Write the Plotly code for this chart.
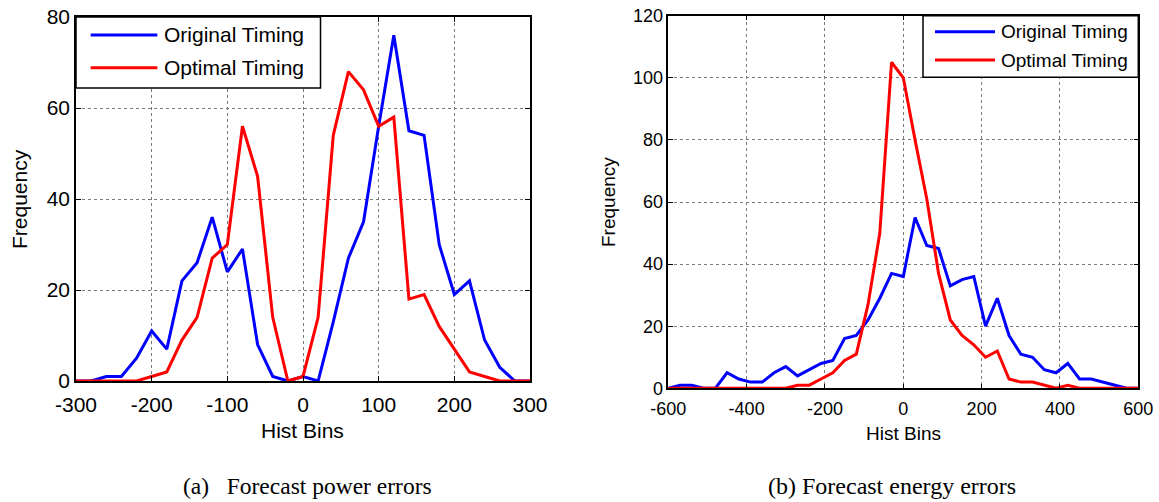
import plotly.graph_objects as go

W, H = 1159, 502

# ---------------- data ----------------
power_bins = [-300, -280, -260, -240, -220, -200, -180, -160, -140, -120, -100, -80, -60, -40, -20,
              0, 20, 40, 60, 80, 100, 120, 140, 160, 180, 200, 220, 240, 260, 280, 300]
power_original = [0, 0, 1, 1, 5, 11, 7, 22, 26, 36, 24, 29, 8, 1, 0,
                  1, 0, 13, 27, 35, 56, 76, 55, 54, 30, 19, 22, 9, 3, 0, 0]
power_optimal = [0, 0, 0, 0, 0, 1, 2, 9, 14, 27, 30, 56, 45, 14, 0,
                 1, 14, 54, 68, 64, 56, 58, 18, 19, 12, 7, 2, 1, 0, 0, 0]

energy_bins = [-600, -570, -540, -510, -480, -450, -420, -390, -360, -330, -300, -270, -240, -210,
               -180, -150, -120, -90, -60, -30, 0, 30, 60, 90, 120, 150, 180, 210, 240, 270,
               300, 330, 360, 390, 420, 450, 480, 510, 540, 570, 600]
energy_original = [0, 1, 1, 0, 0, 5, 3, 2, 2, 5, 7, 4, 6, 8,
                   9, 16, 17, 22, 29, 37, 36, 55, 46, 45, 33, 35, 36, 20, 29, 17,
                   11, 10, 6, 5, 8, 3, 3, 2, 1, 0, 0]
energy_optimal = [0, 0, 0, 0, 0, 0, 0, 0, 0, 0, 0, 1, 1, 3,
                  5, 9, 11, 27, 50, 105, 100, 80, 61, 37, 22, 17, 14, 10, 12, 3,
                  2, 2, 1, 0, 1, 0, 0, 0, 0, 0, 0]

series_names = ["Original Timing", "Optimal Timing"]
captions = ["(a)   Forecast power errors", "(b) Forecast energy errors"]
x_title = "Hist Bins"
y_title = "Frequency"

power_xticks = [-300, -200, -100, 0, 100, 200, 300]
power_yticks = [0, 20, 40, 60, 80]
energy_xticks = [-600, -400, -200, 0, 200, 400, 600]
energy_yticks = [0, 20, 40, 60, 80, 100, 120]

BLUE = "#0000FF"
RED = "#FF0000"
SANS = "Liberation Sans, Arial"
SERIF = "Liberation Serif, Times New Roman"

def px(x):
    return x / W

def py(y):
    return 1 - y / H

def labels(vals):
    return [str(v) for v in vals]  # ASCII hyphen-minus like the reference

# plot areas in pixels
L = dict(x0=76, x1=530, y0=17, y1=381)
R = dict(x0=668.3, x1=1138.3, y0=15.7, y1=388.3)

fig = go.Figure()

fig.add_trace(go.Scatter(x=power_bins, y=power_original, mode="lines",
                         line=dict(color=BLUE, width=3), xaxis="x", yaxis="y", showlegend=False))
fig.add_trace(go.Scatter(x=power_bins, y=power_optimal, mode="lines",
                         line=dict(color=RED, width=3), xaxis="x", yaxis="y", showlegend=False))
fig.add_trace(go.Scatter(x=energy_bins, y=energy_original, mode="lines",
                         line=dict(color=BLUE, width=3), xaxis="x2", yaxis="y2", showlegend=False))
fig.add_trace(go.Scatter(x=energy_bins, y=energy_optimal, mode="lines",
                         line=dict(color=RED, width=3), xaxis="x2", yaxis="y2", showlegend=False))

axis_common = dict(showline=True, linecolor="black", linewidth=1.5, mirror="ticks",
                   ticks="inside", ticklen=5, tickcolor="black", automargin=False,
                   showgrid=True, gridcolor="#7a7a7a", griddash="dot", gridwidth=1,
                   zeroline=False, fixedrange=True)

fig.update_layout(
    width=W, height=H,
    margin=dict(l=0, r=0, t=0, b=0),
    paper_bgcolor="white", plot_bgcolor="white",
    font=dict(family=SANS, color="black"),
    xaxis=dict(domain=[px(L["x0"]), px(L["x1"])], range=[-300, 300],
               tickvals=power_xticks, ticktext=labels(power_xticks), ticklabelstandoff=4,
               anchor="y", tickfont=dict(size=21), **axis_common),
    yaxis=dict(domain=[py(L["y1"]), py(L["y0"])], range=[0, 80],
               tickvals=power_yticks, ticktext=labels(power_yticks),
               anchor="x", tickfont=dict(size=21), **axis_common),
    xaxis2=dict(domain=[px(R["x0"]), px(R["x1"])], range=[-600, 600],
                tickvals=energy_xticks, ticktext=labels(energy_xticks), ticklabelstandoff=3,
                anchor="y2", tickfont=dict(size=18), **axis_common),
    yaxis2=dict(domain=[py(R["y1"]), py(R["y0"])], range=[0, 120],
                tickvals=energy_yticks, ticktext=labels(energy_yticks),
                anchor="x2", tickfont=dict(size=18), **axis_common),
)

shapes = []
annotations = []

# legends (drawn manually to match sample line length)
def add_legend(bx0, bx1, by0, by1, lx0, lx1, ly, tx, fsize):
    shapes.append(dict(type="rect", xref="paper", yref="paper",
                       x0=px(bx0), x1=px(bx1), y0=py(by1), y1=py(by0),
                       line=dict(color="black", width=1.5), fillcolor="white", layer="above"))
    for name, col, yy in zip(series_names, [BLUE, RED], ly):
        shapes.append(dict(type="line", xref="paper", yref="paper",
                           x0=px(lx0), x1=px(lx1), y0=py(yy), y1=py(yy),
                           line=dict(color=col, width=3), layer="above"))
        annotations.append(dict(text=name, xref="paper", yref="paper", x=px(tx), y=py(yy),
                                xanchor="left", yanchor="middle", showarrow=False,
                                font=dict(size=fsize, family=SANS, color="black")))

add_legend(76, 320.5, 17, 88, 90.7, 157.3, [35, 67.7], 162.5, 21)
add_legend(923, 1138.3, 15.7, 77.3, 935, 995, [31.7, 60], 999, 19)

# axis titles
annotations.append(dict(text=x_title, xref="paper", yref="paper", x=px(302), y=py(430),
                        xanchor="center", yanchor="middle", showarrow=False, font=dict(size=21)))
annotations.append(dict(text=y_title, xref="paper", yref="paper", x=px(19), y=py(199),
                        xanchor="center", yanchor="middle", showarrow=False, textangle=-90,
                        font=dict(size=21)))
annotations.append(dict(text=x_title, xref="paper", yref="paper", x=px(903), y=py(433),
                        xanchor="center", yanchor="middle", showarrow=False, font=dict(size=19)))
annotations.append(dict(text=y_title, xref="paper", yref="paper", x=px(608), y=py(202),
                        xanchor="center", yanchor="middle", showarrow=False, textangle=-90,
                        font=dict(size=19)))

# captions
annotations.append(dict(text=captions[0], xref="paper", yref="paper", x=px(307), y=py(486),
                        xanchor="center", yanchor="middle", showarrow=False,
                        font=dict(size=23.5, family=SERIF)))
annotations.append(dict(text=captions[1], xref="paper", yref="paper", x=px(892), y=py(486),
                        xanchor="center", yanchor="middle", showarrow=False,
                        font=dict(size=24, family=SERIF)))

fig.update_layout(shapes=shapes, annotations=annotations)

fig.write_html("out.html")
